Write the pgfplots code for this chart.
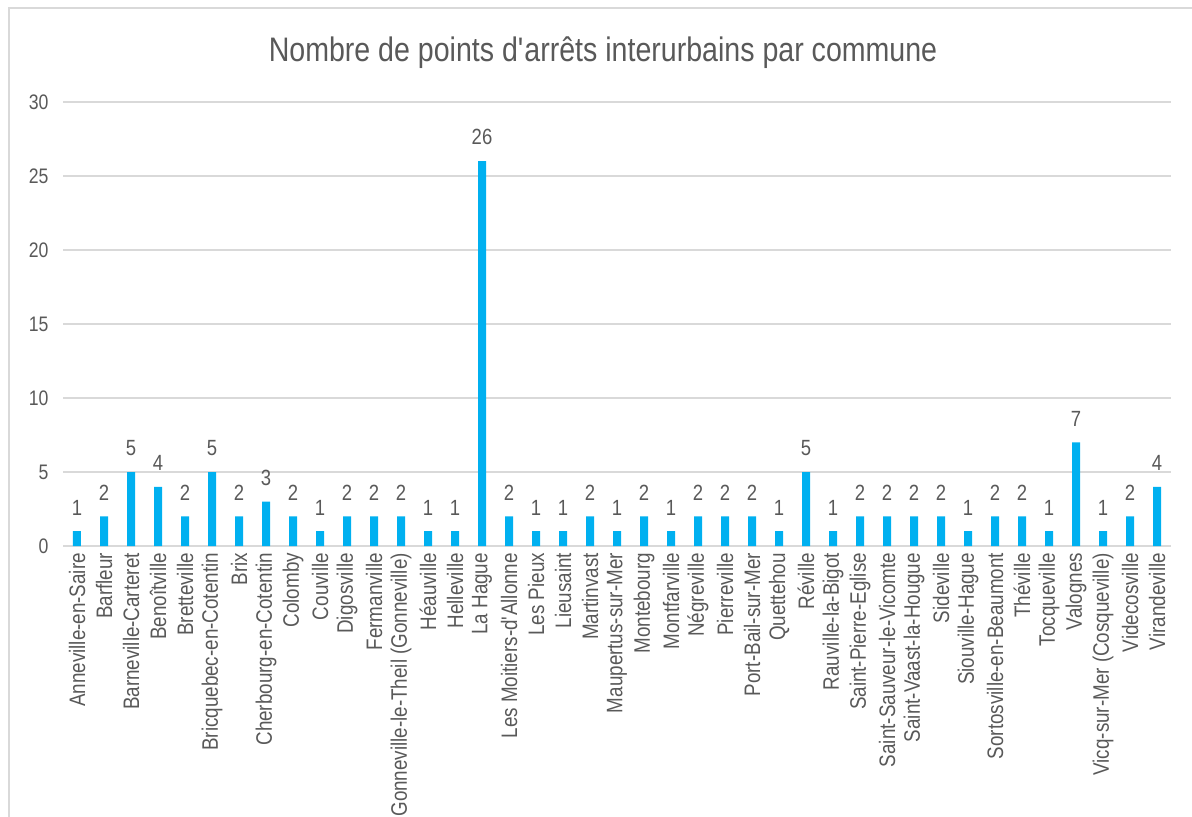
\documentclass[border=0pt]{standalone}
\usepackage{fontspec}
\setmainfont{Liberation Sans}[FakeStretch=0.84]
\usepackage{pgfplots}
\pgfplotsset{compat=1.18}
\definecolor{barblue}{RGB}{0,176,240}
\definecolor{txtgray}{RGB}{89,89,89}
\definecolor{gridgray}{RGB}{217,217,217}

\pgfplotstableread{
x y
0 1
1 2
2 5
3 4
4 2
5 5
6 2
7 3
8 2
9 1
10 2
11 2
12 2
13 1
14 1
15 26
16 2
17 1
18 1
19 2
20 1
21 2
22 1
23 2
24 2
25 2
26 1
27 5
28 1
29 2
30 2
31 2
32 2
33 1
34 2
35 2
36 1
37 7
38 1
39 2
40 4
}\arrets

\begin{document}
\begin{tikzpicture}
\path[use as bounding box] (0,0) rectangle (596pt,408pt);
\draw[gridgray, line width=1pt] (4.5pt,-2pt) -- (4.5pt,404pt) -- (600pt,404pt);
\begin{axis}[
  at={(31.75pt,135pt)}, anchor=south west,
  scale only axis,
  width=553.5pt, height=222pt,
  xmin=-0.5, xmax=40.5,
  ymin=0, ymax=30,
  ytick={0,5,...,30},
  xtick=data,
  xticklabels={Anneville-en-Saire, Barfleur, Barneville-Carteret, Benoîtville, Bretteville,
    Bricquebec-en-Cotentin, Brix, Cherbourg-en-Cotentin, Colomby, Couville, Digosville,
    Fermanville, Gonneville-le-Theil (Gonneville), Héauville, Helleville, La Hague,
    Les Moitiers-d\textquotesingle{}Allonne, Les Pieux, Lieusaint, Martinvast, Maupertus-sur-Mer,
    Montebourg, Montfarville, Négreville, Pierreville, Port-Bail-sur-Mer, Quettehou,
    Réville, Rauville-la-Bigot, Saint-Pierre-Eglise, Saint-Sauveur-le-Vicomte,
    Saint-Vaast-la-Hougue, Sideville, Siouville-Hague, Sortosville-en-Beaumont,
    Théville, Tocqueville, Valognes, Vicq-sur-Mer (Cosqueville), Videcosville, Virandeville},
  xticklabel style={rotate=90, anchor=east, font=\fontsize{11.2}{13}\selectfont, text=txtgray},
  yticklabel style={font=\fontsize{10.5}{12}\selectfont, text=txtgray, xshift=-4pt},
  /pgf/number format/assume math mode=true,
  axis x line*=bottom,
  axis y line*=left,
  y axis line style={draw=none},
  x axis line style={draw=gridgray, line width=1pt},
  tick style={draw=none},
  ymajorgrids,
  grid style={gridgray, line width=0.8pt},
  title={Nombre de points d\textquotesingle{}arrêts interurbains par commune},
  title style={at={(0.5,1)}, anchor=center, yshift=18.5pt, xshift=-7pt,
    font=\fontsize{17}{20}\selectfont, text=txtgray},
]
\addplot[ybar, bar width=4pt, fill=barblue, draw=none,
  nodes near coords,
  every node near coord/.append style={font=\fontsize{11}{13}\selectfont, text=txtgray, yshift=4.5pt}]
  table[x=x, y=y] {\arrets};
\end{axis}
\end{tikzpicture}
\end{document}
